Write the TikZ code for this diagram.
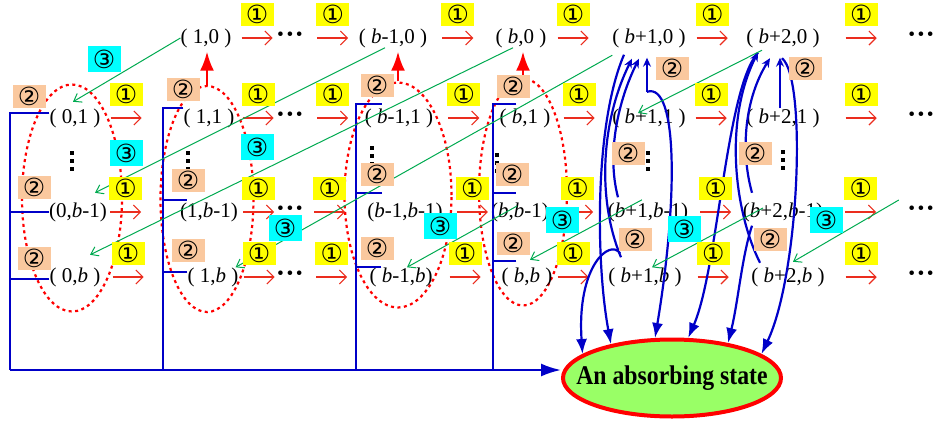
\documentclass[tikz,border=0pt]{standalone}
\usepackage{fontspec}
\setmainfont{Liberation Serif}
\newfontfamily\circfont{DejaVu Sans}
\usepackage{tikz}
\usetikzlibrary{arrows.meta, positioning, calc, shapes.geometric, backgrounds}
\definecolor{steparrow}{RGB}{235, 45, 30}
\definecolor{ringred}{RGB}{255, 0, 0}
\definecolor{busblue}{RGB}{0, 0, 200}
\definecolor{jumpgreen}{RGB}{0, 170, 80}
\definecolor{onebg}{RGB}{255, 255, 0}
\definecolor{twobg}{RGB}{250, 200, 158}
\definecolor{threebg}{RGB}{0, 255, 255}
\definecolor{absorbfill}{RGB}{153, 255, 102}
\tikzset{
  font=\fontsize{21}{24}\selectfont,
  statenode/.style={inner sep=0pt},
  dotsnode/.style={inner sep=0pt, font=\fontsize{28}{28}\selectfont\bfseries},
  ratebox/.style={
    inner sep=0pt, minimum width=33pt, minimum height=23pt,
    font=\circfont\fontsize{25}{25}\selectfont
  },
  onebox/.style={ratebox, fill=onebg},
  twobox/.style={ratebox, fill=twobg},
  threebox/.style={ratebox, fill=threebg, minimum height=26pt},
  stepline/.style={draw=steparrow, line width=1.1pt, -{Straight Barb[length=7pt, width=14pt]}},
  jumpline/.style={draw=jumpgreen, line width=1pt, -{Straight Barb[length=7pt, width=10pt]}},
  busline/.style={draw=busblue, line width=2.2pt},
  busarrow/.style={busline, -{Latex[length=20pt, width=13pt]}},
  downarc/.style={busline, -{Latex[length=15pt, width=11pt]}},
  uparc/.style={busline, -{Stealth[length=9pt, width=8pt]}},
  groupring/.style={
    ellipse, inner sep=0pt, draw=ringred, line width=2.2pt,
    dash pattern=on 3pt off 3.5pt
  },
  ringarrow/.style={draw=ringred, line width=2.2pt, -{Latex[length=19pt, width=14pt]}},
  absorbnode/.style={
    ellipse, inner sep=0pt, draw=ringred, line width=4pt, fill=absorbfill,
    minimum width=218pt, minimum height=77pt,
    font=\fontsize{27}{27}\selectfont\bfseries
  }
}

\begin{document}
\begin{tikzpicture}[x=1pt, y=-1pt]
  \useasboundingbox (0,0) rectangle (935,421);

  % states
  \node[statenode] (s10)  at (206,38) {( 1,0 )};
  \node[statenode] (sb10) at (393,38) {( \textit{b}-1,0 )};
  \node[statenode] (sb0)  at (521,38) {( \textit{b},0 )};
  \node[statenode] (sp10) at (649,38) {( \textit{b}+1,0 )};
  \node[statenode] (sp20) at (783,38) {( \textit{b}+2,0 )};

  \node[statenode] (s01)  at (75,118)  {( 0,1 )};
  \node[statenode] (s11)  at (209,118) {( 1,1 )};
  \node[statenode] (sb11) at (399,118) {( \textit{b}-1,1 )};
  \node[statenode] (sb1)  at (525,118) {( \textit{b},1 )};
  \node[statenode] (sp11) at (649,118) {( \textit{b}+1,1 )};
  \node[statenode] (sp21) at (783,118) {( \textit{b}+2,1 )};

  \node[statenode] (s0b1)  at (78,212)  {(0,\textit{b}-1)};
  \node[statenode] (s1b1)  at (209,212) {(1,\textit{b}-1)};
  \node[statenode] (sb1b1) at (405,212) {(\textit{b}-1,\textit{b}-1)};
  \node[statenode] (sbb1)  at (520,212) {(\textit{b},\textit{b}-1)};
  \node[statenode] (sp1b1) at (648,212) {(\textit{b}+1,\textit{b}-1)};
  \node[statenode] (sp2b1) at (783,212) {(\textit{b}+2,\textit{b}-1)};

  \node[statenode] (s0b)  at (75,277)  {( 0,\textit{b} )};
  \node[statenode] (s1b)  at (213,277) {( 1,\textit{b} )};
  \node[statenode] (sb1b) at (401,277) {( \textit{b}-1,\textit{b})};
  \node[statenode] (sbb)  at (527,277) {( \textit{b},\textit{b} )};
  \node[statenode] (sp1b) at (645,277) {( \textit{b}+1,\textit{b} )};
  \node[statenode] (sp2b) at (788,277) {( \textit{b}+2,\textit{b} )};

  \node[dotsnode] (d0) at (290,38)  {···};
  \node[dotsnode] (d1) at (290,118) {···};
  \node[dotsnode] (d2) at (290,212) {···};
  \node[dotsnode] (d3) at (290,277) {···};
  \node[dotsnode] (e0) at (921,38)  {···};
  \node[dotsnode] (e1) at (921,118) {···};
  \node[dotsnode] (e2) at (921,212) {···};
  \node[dotsnode] (e3) at (921,277) {···};

  \foreach \x/\y in {72/153, 188/153, 372/148, 497/155, 648/153, 783/152}
    \foreach \k in {0,8,16}
      \fill[shift={(\x,\y)}] (-2,\k-2) rectangle ++(4,4);

  \node[absorbnode] (absorb) at (672,378) {\makebox[0pt]{\scalebox{0.88}[1]{An absorbing state}}};

  % dotted groups
  \begin{scope}[on background layer]
    \node[groupring, minimum width=100pt, minimum height=227pt] (ring0) at (72,198) {};
    \node[groupring, minimum width=93pt, minimum height=226pt] (ring1) at (207,199) {};
    \node[groupring, minimum width=107pt, minimum height=225pt] (ring2) at (398,195) {};
    \node[groupring, minimum width=88pt, minimum height=227pt] (ring3) at (523,192) {};
  \end{scope}
  \draw[ringarrow, shorten >=4pt] (ring1.north) -- (ring1.north |- s10.south);
  \draw[ringarrow, shorten >=4pt] (ring2.north) -- (ring2.north |- sb10.south);
  \draw[ringarrow, shorten >=4pt] (ring3.north) -- (ring3.north |- sb0.south);

  % step arrows
  \def\steplist{s10/10pt, d0/13pt, sb10/15pt, sb0/11pt, sp10/11pt, sp20/26pt,
    s01/10pt, s11/8pt, d1/13pt, sb11/15pt, sb1/13pt, sp11/10pt, sp21/26pt,
    s0b1/3pt, s1b1/5pt, d2/10pt, sb1b1/14pt, sbb1/13pt, sp1b1/12pt, sp2b1/22pt,
    s0b/12pt, s1b/5pt, d3/12pt, sb1b/17pt, sbb/5pt, sp1b/16pt, sp2b/21pt}
  \foreach \a/\s in \steplist
    \draw[stepline] ([xshift=\s]\a.east) -- ++(31,0);

  % exits to the absorbing state
  \coordinate (bus0) at (10,370);
  \coordinate (bus1) at (163,370);
  \coordinate (bus2) at (356,370);
  \coordinate (bus3) at (493,370);
  \draw[busline] ([yshift=5pt]s01.west) -| (bus0);
  \draw[busline] (s0b1.west) -| (bus0);
  \draw[busline] ([yshift=-2pt]s0b.west) -| (bus0);
  \draw[busline] (s11.north west) -| (bus1);
  \draw[busline] ([xshift=7pt,yshift=2pt]s1b1.north west) -| (bus1);
  \draw[busline] ([yshift=-5pt]s1b.north west) -| (bus1);
  \draw[busline] ([xshift=17pt,yshift=4pt]sb11.north west) -| (bus2);
  \draw[busline] ([xshift=15pt,yshift=9pt]sb1b1.north west) -| (bus2);
  \draw[busline] ([xshift=12pt]sb1b.north west) -| (bus2);
  \draw[busline] ([xshift=17pt,yshift=4pt]sb1.north west) -| (bus3);
  \draw[busline] ([xshift=25pt,yshift=9pt]sbb1.north west) -| (bus3);
  \draw[busline] ([xshift=15pt,yshift=6pt]sbb.north west) -| (bus3);
  \draw[busarrow] (bus0) -- (absorb.west |- bus0);

  % column b+1
  \draw[uparc] ([xshift=-2pt,yshift=16.5pt]sp11.north) -- ([xshift=-2pt,yshift=-10pt]sp10.south);
  \draw[uparc] ([xshift=-30pt,yshift=5pt]sp1b1.north) .. controls +(-12,-45) and +(-20,40) .. ([xshift=-10pt,yshift=-11pt]sp10.south);
  \draw[uparc] ([xshift=-24pt,yshift=10pt]sp1b.north) .. controls +(-25,-60) and +(-30,60) .. ([xshift=-17pt,yshift=-11pt]sp10.south);
  \draw[downarc] ([xshift=-25pt,yshift=-7pt]sp10.south) .. controls +(-30,70) and +(-15,-80) .. (absorb.151);
  \draw[downarc] ([xshift=-2pt,yshift=16.5pt]sp11.north) .. controls +(31,-10) and +(23,-138) .. (absorb.113);
  \draw[downarc] ([xshift=-25pt,yshift=14pt]sp1b.north) .. controls +(-10,-15) and +(-6,-88) .. (absorb.165);

  % column b+2
  \draw[uparc] ([xshift=-3pt]sp21.north) -- ([xshift=-3pt,yshift=-10pt]sp20.south);
  \draw[uparc] ([xshift=-31pt,yshift=9.5pt]sp2b1.north) .. controls +(-12,-43) and +(-25,40) .. ([xshift=-13pt,yshift=-10.5pt]sp20.south);
  \draw[uparc] ([xshift=-28pt,yshift=4.5pt]sp2b.north) .. controls +(-25,-50) and +(-35,70) .. ([xshift=-25pt,yshift=-4.5pt]sp20.south);
  \draw[downarc] ([xshift=-25pt,yshift=-5pt]sp20.south) .. controls +(-32,35) and +(30,-69) .. (absorb.68);
  \draw[downarc] ([xshift=-1pt,yshift=-10.5pt]sp20.south) .. controls +(25,20) and +(38,-80) .. (absorb.15);
  \draw[downarc] ([xshift=-31pt,yshift=-4pt]sp2b1.south) .. controls +(-10,30) and +(10,-40) .. (absorb.32);

  % jumps
  \draw[jumpline] (s10.west) -- ([xshift=-2pt,yshift=6.5pt]s01.north);
  \draw[jumpline] ([xshift=-8pt]sb10.south) -- ([xshift=17pt,yshift=9.5pt]s0b1.north);
  \draw[jumpline] ([xshift=-8pt]sb0.south) -- ([xshift=15pt,yshift=12.5pt]s0b.north);
  \draw[jumpline] ([yshift=-7.5pt]sp10.south west) -- ([xshift=-3pt]s1b.north east);
  \draw[jumpline] ([xshift=-21pt,yshift=-2.5pt]sp20.south) -- ([xshift=-11pt,yshift=5pt]sp11.center);
  \draw[jumpline] ([xshift=-8pt,yshift=12pt]e2.west) -- ([xshift=5pt,yshift=5.5pt]sp2b.north);
  \draw[jumpline] ([xshift=-20pt,yshift=4pt]sp2b1.center) -- ([xshift=7pt]sp1b.north);
  \draw[jumpline] ([xshift=-6pt,yshift=2.5pt]sp1b1.north) -- ([xshift=3pt,yshift=7.5pt]sbb.north);
  \draw[jumpline] ([xshift=-3pt,yshift=6pt]sbb1.center) -- ([xshift=6pt]sb1b.north);

  % rate labels
  \foreach \a/\s in \steplist
    \node[onebox] (one\a) at ([xshift=\s+15.5pt, yshift=24pt]\a.east) {①};
  \foreach \p [count=\i] in {(29,96), (34,187), (34,258), (183,89), (188,180), (188,250),
      (377,85), (377,174), (377,248), (513,86), (512,174), (513,243),
      (672,68), (628,153), (635,239), (805,68), (755,153), (770,239)}
    \node[twobox] (two\i) at \p {②};
  \foreach \p [count=\i] in {(104,59), (126,153), (257,147), (285,228),
      (440,226), (562,220), (684,229), (826,220)}
    \node[threebox] (three\i) at \p {③};
\end{tikzpicture}
\end{document}
